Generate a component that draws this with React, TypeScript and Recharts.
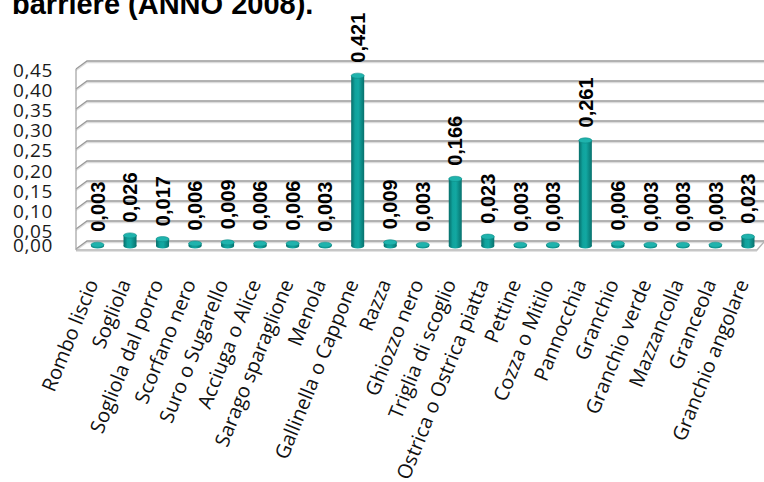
import React from "react";
import { BarChart, Bar, XAxis, YAxis, CartesianGrid, LabelList } from "recharts";

const categories = [
  "Rombo liscio",
  "Sogliola",
  "Sogliola dal  porro",
  "Scorfano nero",
  "Suro o Sugarello",
  "Acciuga o Alice",
  "Sarago sparaglione",
  "Menola",
  "Gallinella o Cappone",
  "Razza",
  "Ghiozzo nero",
  "Triglia di scoglio",
  "Ostrica o Ostrica piatta",
  "Pettine",
  "Cozza o Mitilo",
  "Pannocchia",
  "Granchio",
  "Granchio verde",
  "Mazzancolla",
  "Granceola",
  "Granchio angolare",
];

const values = [
  0.003, 0.026, 0.017, 0.006, 0.009, 0.006, 0.006, 0.003, 0.421, 0.009, 0.003,
  0.166, 0.023, 0.003, 0.003, 0.261, 0.006, 0.003, 0.003, 0.003, 0.023,
];

const yTicks = [0, 0.05, 0.1, 0.15, 0.2, 0.25, 0.3, 0.35, 0.4, 0.45];

const titleText = "barriere (ANNO 2008).";

const data = categories.map((name, i) => ({ name, v: values[i] }));

const W = 764;
const H = 482;
const PLOT_TOP = 64;
const PLOT_BOTTOM = 246;
const Y_AXIS_W = 81;

const fmt = (v: number, d: number) => v.toFixed(d).replace(".", ",");

const GridLine = (props: any) => {
  const { x1, x2, y1 } = props;
  const t = (PLOT_BOTTOM - y1) / (PLOT_BOTTOM - PLOT_TOP);
  const yb = y1 - 5 + 2 * t;
  const frontX = x1 - 5;
  const backX = x1 + 6;
  const endX = x2;
  const yf = yb + 8;
  const isFloor = Math.abs(y1 - PLOT_BOTTOM) < 0.5;
  const isTop = Math.abs(y1 - PLOT_TOP) < 0.5;
  return (
    <g>
      <polyline
        points={`${frontX},${yf + 1.5} ${backX},${yb + 1.5} ${endX},${yb + 1.5}`}
        stroke="#dcdcdc"
        strokeWidth={1.3}
        fill="none"
      />
      <polyline
        points={`${frontX},${yf} ${backX},${yb} ${endX},${yb}`}
        stroke="#9a9a9a"
        strokeWidth={1.3}
        fill="none"
      />
      {isFloor && (
        <g>
          <polyline
            points={`${frontX},${yf + 1} ${x2 - 7},${yf + 1} ${x2},${yb + 1}`}
            stroke="#b4b4b4"
            strokeWidth={1.4}
            fill="none"
          />
          <polyline
            points={`${frontX},${yf + 2.5} ${x2 - 7},${yf + 2.5}`}
            stroke="#e2e2e2"
            strokeWidth={1.2}
            fill="none"
          />
        </g>
      )}
      {isTop && (
        <line
          x1={frontX}
          y1={yf}
          x2={frontX}
          y2={PLOT_BOTTOM + 4}
          stroke="#a8a8a8"
          strokeWidth={1.3}
        />
      )}
    </g>
  );
};

const Cylinder = (props: any) => {
  const { x, y, width, height, index } = props;
  if (x == null || y == null) return null;
  const cx = x + width / 2;
  const w = width;
  const left = cx - w / 2;
  const ry = 2.6;
  const id = `cyl-${index}`;
  return (
    <g>
      <defs>
        <linearGradient id={id} x1="0" y1="0" x2="1" y2="0">
          <stop offset="0%" stopColor="#066d69" />
          <stop offset="30%" stopColor="#10a39d" />
          <stop offset="55%" stopColor="#12a8a2" />
          <stop offset="100%" stopColor="#07716d" />
        </linearGradient>
      </defs>
      <ellipse cx={cx} cy={y + height} rx={w / 2} ry={ry} fill={`url(#${id})`} />
      <rect x={left} y={y} width={w} height={Math.max(height, 0)} fill={`url(#${id})`} />
      <ellipse cx={cx} cy={y} rx={w / 2} ry={ry} fill="#1fb3ad" stroke="#0b8c87" strokeWidth={0.6} />
    </g>
  );
};

const ValueLabel = (props: any) => {
  const { x, y, width, value } = props;
  if (x == null || y == null) return null;
  const ax = x + width / 2 + 7.2;
  const ay = y - 13;
  return (
    <text
      x={ax}
      y={ay}
      transform={`rotate(-90, ${ax}, ${ay})`}
      textAnchor="start"
      fontFamily="'Liberation Sans', Arial, sans-serif"
      fontWeight="bold"
      fontSize={20}
      fill="#000"
    >
      {fmt(Number(value), 3)}
    </text>
  );
};

const YTick = (props: any) => {
  const { y, payload } = props;
  const cy = Math.min(y + 5.5, PLOT_BOTTOM - 1);
  return (
    <text
      x={53}
      y={cy}
      textAnchor="end"
      dominantBaseline="central"
      fontFamily="'Open Sans', sans-serif"
      fontSize={19}
      letterSpacing={0.6}
      fill="#1a1a1a"
    >
      {fmt(Number(payload.value), 2)}
    </text>
  );
};

const XTick = (props: any) => {
  const { x, payload } = props;
  const ax = x + 1.5;
  const ay = PLOT_BOTTOM + 37;
  return (
    <text
      x={ax}
      y={ay}
      transform={`rotate(-68, ${ax}, ${ay})`}
      textAnchor="end"
      fontFamily="'Open Sans', sans-serif"
      fontSize={20}
      fill="#111"
    >
      {payload.value}
    </text>
  );
};

export default function App() {
  return (
    <div
      style={{
        position: "absolute",
        left: 0,
        top: 0,
        width: W,
        height: H,
        background: "#fff",
        overflow: "hidden",
      }}
    >
      <svg
        width={W}
        height={40}
        style={{ position: "absolute", left: 0, top: 0 }}
      >
        <text
          x={12}
          y={13.5}
          fontFamily="'Liberation Sans', Arial, sans-serif"
          fontWeight="bold"
          fontSize={29}
          fill="#000"
        >
          {titleText}
        </text>
      </svg>
      <div style={{ position: "absolute", left: 0, top: 0 }}>
        <BarChart
          width={W}
          height={H}
          data={data}
          margin={{ top: PLOT_TOP, right: 0, bottom: 0, left: 0 }}
        >
          <CartesianGrid vertical={false} horizontal={GridLine as any} />
          <XAxis
            dataKey="name"
            interval={0}
            height={H - PLOT_BOTTOM}
            tickLine={false}
            axisLine={false}
            tick={<XTick />}
          />
          <YAxis
            domain={[0, 0.45]}
            ticks={yTicks}
            width={Y_AXIS_W}
            interval={0}
            tickLine={false}
            axisLine={false}
            tick={<YTick />}
          />
          <Bar
            dataKey="v"
            barSize={13}
            isAnimationActive={false}
            shape={<Cylinder />}
          >
            <LabelList dataKey="v" content={<ValueLabel />} />
          </Bar>
        </BarChart>
      </div>
    </div>
  );
}
